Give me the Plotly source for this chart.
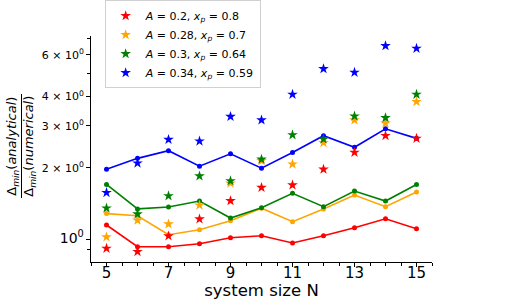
import plotly.graph_objects as go

N = [5, 6, 7, 8, 9, 10, 11, 12, 13, 14, 15]

labels = ["<i>A</i> = 0.2, <i>x</i><sub><i>p</i></sub> = 0.8",
          "<i>A</i> = 0.28, <i>x</i><sub><i>p</i></sub> = 0.7",
          "<i>A</i> = 0.3, <i>x</i><sub><i>p</i></sub> = 0.64",
          "<i>A</i> = 0.34, <i>x</i><sub><i>p</i></sub> = 0.59"]
colors = ["red", "orange", "green", "blue"]

red_line = [1.146, 0.928, 0.928, 0.955, 1.013, 1.032, 0.962, 1.032, 1.116, 1.218, 1.105]
red_star = [0.913, 0.884, 1.03, 1.214, 1.45, 1.65, 1.69, 1.97, 2.32, 2.73, 2.66]
orange_line = [1.28, 1.254, 1.043, 1.094, 1.195, 1.35, 1.183, 1.34, 1.534, 1.37, 1.58]
orange_star = [1.02, 1.20, 1.157, 1.39, 1.72, 2.14, 2.07, 2.55, 3.18, 3.08, 3.80]
green_line = [1.70, 1.34, 1.365, 1.447, 1.226, 1.356, 1.56, 1.37, 1.594, 1.447, 1.70]
green_star = [1.35, 1.275, 1.52, 1.845, 1.76, 2.17, 2.75, 2.64, 3.30, 3.25, 4.08]
blue_line = [1.97, 2.19, 2.36, 2.03, 2.29, 1.99, 2.32, 2.73, 2.44, 2.92, 2.66]
blue_star = [1.57, 2.09, 2.63, 2.59, 3.29, 3.18, 4.08, 5.23, 5.05, 6.54, 6.38]

lines = [red_line, orange_line, green_line, blue_line]
stars = [red_star, orange_star, green_star, blue_star]

ytick_vals = [1, 2, 3, 4, 6]
ytick_text = ['<span style="font-size:14px">10<sup>0</sup></span>',
              "2 × 10<sup>0</sup>", "3 × 10<sup>0</sup>",
              "4 × 10<sup>0</sup>", "6 × 10<sup>0</sup>"]
yminor_vals = [0.9, 5, 7]
xtick_vals = [5, 7, 9, 11, 13, 15]

fig = go.Figure()
for ys, c in zip(lines, colors):
    fig.add_trace(go.Scatter(x=N, y=ys, mode="lines+markers",
                             line=dict(color=c, width=1.6),
                             marker=dict(color=c, size=5, symbol="circle"),
                             showlegend=False))
for ys, c, lab in zip(stars, colors, labels):
    fig.add_trace(go.Scatter(x=N, y=ys, mode="markers", name=lab,
                             marker=dict(color=c, size=8, symbol="star",
                                         line=dict(width=0))))

font = "DejaVu Sans"
fig.update_layout(
    width=507, height=300,
    margin=dict(l=91, r=75, t=36, b=38, autoexpand=False),
    paper_bgcolor="white", plot_bgcolor="white",
    font=dict(family=font, color="black", size=12),
    legend=dict(x=0.04, y=1.158, xanchor="left", yanchor="top",
                bordercolor="#d0d0d0", borderwidth=1,
                font=dict(size=11, family=font), itemwidth=30,
                tracegroupgap=0),
    xaxis=dict(range=[4.5, 15.5], tickvals=xtick_vals,
               showline=True, linecolor="black", linewidth=1,
               ticks="outside", ticklen=4, tickcolor="black",
               ticklabelstandoff=-7,
               showgrid=False, zeroline=False,
               tickfont=dict(size=15, family=font),
               minor=dict(dtick=0.5, tick0=0, ticks="outside", ticklen=2.5,
                          tickcolor="black", showgrid=False),
               title=dict(text="system size N", font=dict(size=16.5, family=font),
                          standoff=11)),
    yaxis=dict(type="log", range=[-0.097, 0.857],
               tickvals=ytick_vals, ticktext=ytick_text,
               showline=True, linecolor="black", linewidth=1,
               ticks="outside", ticklen=4, tickcolor="black",
               showgrid=False, zeroline=False,
               tickfont=dict(size=11, family=font),
               minor=dict(tickvals=yminor_vals, ticks="outside", ticklen=3,
                          tickcolor="black", showgrid=False)),
)

# y-axis title as a fraction
fig.add_annotation(xref="paper", yref="paper", x=(13 - 91) / 341, y=0.51,
                   xanchor="center", yanchor="middle", textangle=-90, showarrow=False,
                   text="Δ<sub><i>min</i></sub>(<i>analytical</i>)",
                   font=dict(size=13, family=font))
fig.add_annotation(xref="paper", yref="paper", x=(30 - 91) / 341, y=0.51,
                   xanchor="center", yanchor="middle", textangle=-90, showarrow=False,
                   text="Δ<sub><i>min</i></sub>(<i>numerical</i>)",
                   font=dict(size=13, family=font))
fig.add_shape(type="line", xref="paper", yref="paper",
              x0=(21.5 - 91) / 341, x1=(21.5 - 91) / 341,
              y0=(262 - 94) / 226, y1=(262 - 198) / 226,
              line=dict(color="black", width=1))

fig.write_html("out.html", config={"displayModeBar": False},
               post_script="document.body.style.margin='0';document.body.style.padding='0';")
